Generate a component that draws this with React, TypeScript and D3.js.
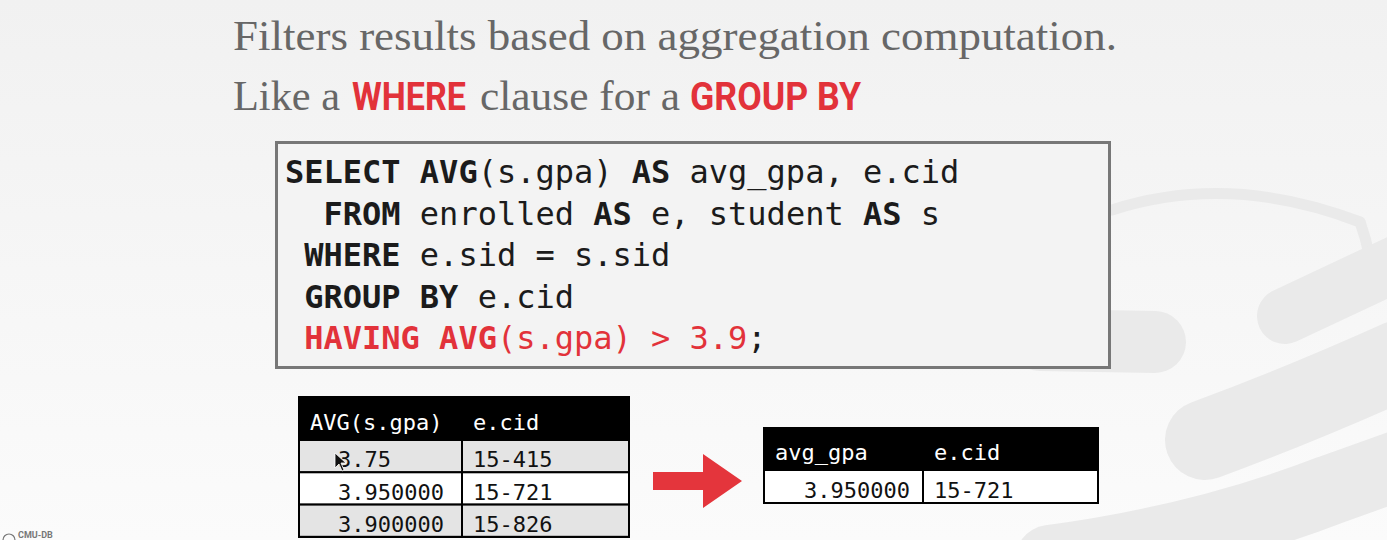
import { useEffect, useRef } from 'react';
import * as d3 from 'd3';

// slide text
const titleLine1 = 'Filters results based on aggregation computation.';
const titleLine2 = [
  { text: 'Like a', kind: 'plain' },
  { text: 'WHERE', kind: 'red' },
  { text: 'clause for a', kind: 'plain' },
  { text: 'GROUP BY', kind: 'red' },
];

// SQL tokens per line: [text, style]  kw = bold, h = red, hkw = red bold
const codeLines: [string, string][][] = [
  [['SELECT', 'kw'], [' ', ''], ['AVG', 'kw'], ['(s.gpa) ', ''], ['AS', 'kw'], [' avg_gpa, e.cid', '']],
  [['  ', ''], ['FROM', 'kw'], [' enrolled ', ''], ['AS', 'kw'], [' e, student ', ''], ['AS', 'kw'], [' s', '']],
  [[' ', ''], ['WHERE', 'kw'], [' e.sid = s.sid', '']],
  [[' ', ''], ['GROUP BY', 'kw'], [' e.cid', '']],
  [[' ', ''], ['HAVING', 'hkw'], [' ', 'h'], ['AVG', 'hkw'], ['(s.gpa) > 3.9', 'h'], [';', '']],
];

// tables
const inputColumns = ['AVG(s.gpa)', 'e.cid'];
const inputAvg = ['3.75', '3.950000', '3.900000'];
const inputCid = ['15-415', '15-721', '15-826'];
const outputColumns = ['avg_gpa', 'e.cid'];
const outputAvg = ['3.950000'];
const outputCid = ['15-721'];

const RED = '#e2323a';
const MONO = '"DejaVu Sans Mono", monospace';

export default function App() {
  const svgRef = useRef<SVGSVGElement>(null);

  useEffect(() => {
    if (!svgRef.current) return;
    document.body.style.margin = '0';
    const width = 1387;
    const height = 540;

    const svg = d3.select(svgRef.current);
    svg.selectAll('*').remove();
    svg.attr('width', width).attr('height', height).attr('viewBox', `0 0 ${width} ${height}`);

    // background
    const defs = svg.append('defs');
    const grad = defs.append('linearGradient').attr('id', 'bg').attr('x1', 0).attr('y1', 0).attr('x2', 0).attr('y2', 1);
    grad.append('stop').attr('offset', '0%').attr('stop-color', '#f1f1f1');
    grad.append('stop').attr('offset', '100%').attr('stop-color', '#fbfbfb');
    svg.append('rect').attr('width', width).attr('height', height).attr('fill', 'url(#bg)');

    // faint database logo watermark on the right
    const wm = svg.append('g').attr('fill', 'none').attr('stroke', '#eaeaea').attr('stroke-linecap', 'round');
    wm.append('path').attr('d', 'M1112,210 Q1230,172 1360,222').attr('stroke-width', 11);
    wm.append('path').attr('d', 'M1360,222 Q1374,260 1372,300').attr('stroke-width', 11);
    wm.append('path').attr('d', 'M1040,340 L1155,342').attr('stroke-width', 62);
    wm.append('path').attr('d', 'M1285,316 Q1340,290 1400,262').attr('stroke-width', 56);
    wm.append('path').attr('d', 'M1205,440 Q1300,405 1400,360').attr('stroke-width', 80);
    wm.append('path').attr('d', 'M1050,560 Q1200,540 1330,490 L1400,465').attr('stroke-width', 70);

    // title
    const serif = '"Liberation Serif", "Times New Roman", serif';
    svg.append('text')
      .attr('x', 233).attr('y', 50)
      .attr('textLength', 884).attr('lengthAdjust', 'spacingAndGlyphs')
      .style('font-family', serif).style('font-size', '42px').attr('fill', '#676767')
      .text(titleLine1);

    const line2X = [233, 352, 480, 690];
    const line2W = [107, 114, 200, 171];
    svg.append('g').selectAll('text')
      .data(titleLine2)
      .enter()
      .append('text')
      .attr('x', (_d, i) => line2X[i])
      .attr('y', 110)
      .attr('textLength', (_d, i) => line2W[i])
      .attr('lengthAdjust', 'spacingAndGlyphs')
      .style('font-family', d => (d.kind === 'red' ? 'Roboto, "Liberation Sans", sans-serif' : serif))
      .style('font-size', d => (d.kind === 'red' ? '39px' : '42px'))
      .style('font-weight', d => (d.kind === 'red' ? 'bold' : 'normal'))
      .attr('fill', d => (d.kind === 'red' ? RED : '#676767'))
      .text(d => d.text);

    // code box
    svg.append('rect')
      .attr('x', 276.5).attr('y', 142.5).attr('width', 833).attr('height', 225)
      .attr('fill', '#f3f3f3').attr('stroke', '#777').attr('stroke-width', 3);

    const codeFont = 32;
    const charW = codeFont * 0.602;
    const yLine = d3.scaleLinear().domain([0, codeLines.length - 1]).range([183, 349]);
    const codeG = svg.append('g')
      .style('font-family', MONO).style('font-size', `${codeFont}px`);
    codeLines.forEach((tokens, li) => {
      let col = 0;
      const placed = tokens.map(([t, s]) => {
        const lead = t.length - t.trimStart().length;
        const p = { t: t.trim(), s, col: col + lead };
        col += t.length;
        return p;
      });
      codeG.selectAll(null)
        .data(placed.filter(p => p.t.length))
        .enter()
        .append('text')
        .attr('x', p => 285 + p.col * charW)
        .attr('y', yLine(li))
        .style('font-weight', p => (p.s === 'kw' || p.s === 'hkw' ? 'bold' : 'normal'))
        .attr('fill', p => (p.s === 'h' || p.s === 'hkw' ? RED : '#1b1b1b'))
        .text(p => p.t);
    });

    // tables
    const tableFont = 22;
    const drawTable = (
      g: d3.Selection<SVGGElement, unknown, null, undefined>,
      cols: string[],
      avg: string[],
      cid: string[],
      edges: number[],
      top: number,
      headerH: number,
      rowH: number,
      rowFill: (i: number) => string,
      valueX: number,
      valueAnchor: string,
    ) => {
      const x = d3.scaleLinear().domain([0, 1, 2]).range(edges);
      const rows = avg.map((a, i) => ({ a, c: cid[i], i }));
      const y = d3.scaleBand<number>()
        .domain(rows.map(r => r.i))
        .range([top + headerH, top + headerH + rowH * rows.length]);

      g.append('rect')
        .attr('x', x(0)).attr('y', top).attr('width', x(2) - x(0)).attr('height', headerH)
        .attr('fill', '#000');
      g.selectAll('.hdr')
        .data(cols)
        .enter()
        .append('text')
        .attr('x', (_d, i) => x(i) + 11)
        .attr('y', top + headerH - 10)
        .attr('fill', '#fff')
        .style('font-family', MONO).style('font-size', `${tableFont}px`)
        .text(d => d);

      const r = g.selectAll('.row').data(rows).enter().append('g');
      r.append('rect')
        .attr('x', x(0)).attr('y', d => y(d.i)!).attr('width', x(2) - x(0)).attr('height', y.bandwidth())
        .attr('fill', d => rowFill(d.i)).attr('stroke', '#000').attr('stroke-width', 2);
      r.append('line')
        .attr('x1', x(1)).attr('x2', x(1))
        .attr('y1', d => y(d.i)!).attr('y2', d => y(d.i)! + y.bandwidth())
        .attr('stroke', '#000').attr('stroke-width', 2);
      r.append('text')
        .attr('x', valueX)
        .attr('y', d => y(d.i)! + y.bandwidth() - 5)
        .attr('text-anchor', valueAnchor)
        .style('font-family', MONO).style('font-size', `${tableFont}px`).attr('fill', '#111')
        .text(d => d.a);
      r.append('text')
        .attr('x', x(1) + 11)
        .attr('y', d => y(d.i)! + y.bandwidth() - 5)
        .style('font-family', MONO).style('font-size', `${tableFont}px`).attr('fill', '#111')
        .text(d => d.c);
      g.append('rect')
        .attr('x', x(0)).attr('y', top).attr('width', x(2) - x(0)).attr('height', headerH + rowH * rows.length)
        .attr('fill', 'none').attr('stroke', '#000').attr('stroke-width', 2);
    };

    drawTable(
      svg.append('g'), inputColumns, inputAvg, inputCid,
      [299, 462, 629], 397, 43, 32.3,
      i => (i === 1 ? '#ffffff' : '#e4e4e4'),
      338, 'start',
    );
    drawTable(
      svg.append('g'), outputColumns, outputAvg, outputCid,
      [764, 923, 1098], 428, 42, 33,
      () => '#ffffff',
      910, 'end',
    );

    // mouse cursor in first row
    svg.append('path')
      .attr('d', 'M335,453 L335,468 L339,464 L342,471 L344,470 L341,463 L346,463 Z')
      .attr('fill', '#111').attr('stroke', '#fff').attr('stroke-width', 0.8);

    // red arrow
    const arrowPts: [number, number][] = [
      [653, 472], [703, 472], [703, 454], [742, 481], [703, 508], [703, 490], [653, 490],
    ];
    svg.append('path')
      .attr('d', d3.line()(arrowPts) + 'Z')
      .attr('fill', '#e4353c');

    // footer logo at the bottom-left edge
    svg.append('circle').attr('cx', 9).attr('cy', 540).attr('r', 6)
      .attr('fill', 'none').attr('stroke', '#777').attr('stroke-width', 1.2);
    svg.append('text')
      .attr('x', 18).attr('y', 538)
      .style('font-family', 'Roboto, sans-serif').style('font-size', '9px').style('font-weight', 'bold')
      .attr('fill', '#777')
      .text('CMU-DB');
  }, []);

  return (
    <div style={{ position: 'fixed', left: 0, top: 0, width: 1387, height: 540, overflow: 'hidden' }}>
      <svg ref={svgRef} style={{ display: 'block' }} />
    </div>
  );
}
